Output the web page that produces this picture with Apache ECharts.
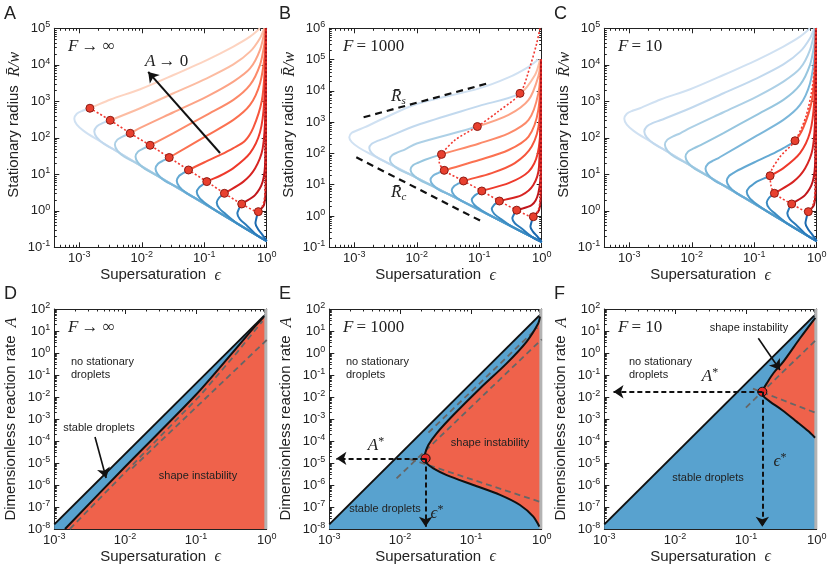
<!DOCTYPE html>
<html>
<head>
<meta charset="utf-8">
<title>Stationary droplets</title>
<script src="https://cdn.jsdelivr.net/npm/echarts@6.0.0/dist/echarts.min.js"></script>
<style>
  html, body { margin: 0; padding: 0; background: #fff; }
  #chart { width: 830px; height: 575px; }
</style>
</head>
<body>
<div id="chart"></div>
<script>
// every number below is a log10 exponent

// tick labels
var epsTicks = [-3, -2, -1, 0];
var radiusTicks = [-1, 0, 1, 2, 3, 4, 5];
var radiusTicksB = [-1, 0, 1, 2, 3, 4, 5, 6];
var rateTicks = [-8, -7, -6, -5, -4, -3, -2, -1, 0, 1, 2];

// stationary radius curves, smallest A first
// lower branch and nose (same in A, B, C)
var lower1 = [[0, -0.83], [-2.75, 1.99], [-2.93, 2.19], [-3.04, 2.36], [-3.08, 2.52], [-3.04, 2.66], [-2.95, 2.74]];
var lower2 = [[0, -0.83], [-2.43, 1.66], [-2.61, 1.84], [-2.72, 2.01], [-2.76, 2.17], [-2.72, 2.31], [-2.63, 2.40]];
var lower3 = [[0, -0.83], [-2.10, 1.32], [-2.28, 1.48], [-2.39, 1.65], [-2.43, 1.81], [-2.39, 1.95], [-2.30, 2.04]];
var lower4 = [[0, -0.83], [-1.77, 0.98], [-1.95, 1.15], [-2.06, 1.32], [-2.10, 1.48], [-2.06, 1.62], [-1.97, 1.71]];
var lower5 = [[0, -0.83], [-1.45, 0.66], [-1.63, 0.82], [-1.74, 0.99], [-1.78, 1.15], [-1.74, 1.29], [-1.65, 1.38]];
var lower6 = [[0, -0.83], [-1.11, 0.31], [-1.29, 0.49], [-1.40, 0.66], [-1.44, 0.82], [-1.40, 0.96], [-1.33, 1.04]];
var lower7 = [[0, -0.83], [-0.79, -0.02], [-0.97, 0.19], [-1.08, 0.36], [-1.12, 0.52], [-1.08, 0.64], [-1.02, 0.72]];
var lower8 = [[0, -0.83], [-0.47, -0.35], [-0.65, -0.10], [-0.76, 0.07], [-0.80, 0.23], [-0.765, 0.35], [-0.72, 0.42]];
var lower9 = [[0, -0.83], [-0.14, -0.69], [-0.32, -0.40], [-0.43, -0.23], [-0.47, -0.07], [-0.445, 0.05], [-0.42, 0.13]];
var lower10 = [[0, -0.83], [-0.03, -0.75], [-0.08, -0.63], [-0.14, -0.50], [-0.18, -0.34], [-0.163, -0.19], [-0.148, -0.09]];

// upper branches for F -> infinity (A) and F = 10 (C)
var upper1 = [[-2.83, 2.81], [-2.5, 3.05], [-2.025, 3.33], [-1.492, 3.72], [-0.959, 4.13], [-0.533, 4.50], [-0.267, 4.77], [-0.107, 5.0]];
var upper2 = [[-2.505, 2.48], [-2.025, 2.81], [-1.492, 3.22], [-0.959, 3.63], [-0.533, 4.01], [-0.267, 4.36], [-0.107, 4.73], [-0.04, 5.0]];
var upper3 = [[-2.185, 2.124], [-2.025, 2.27], [-1.492, 2.70], [-0.959, 3.13], [-0.533, 3.54], [-0.267, 3.90], [-0.107, 4.41], [-0.027, 5.0]];
var upper4 = [[-1.866, 1.795], [-1.492, 2.13], [-0.959, 2.63], [-0.533, 3.04], [-0.267, 3.45], [-0.107, 4.0], [-0.035, 4.6], [-0.016, 5.0]];
var upper5 = [[-1.56, 1.46], [-0.959, 2.06], [-0.533, 2.49], [-0.267, 2.90], [-0.107, 3.49], [-0.03, 4.3], [-0.012, 5.0]];
var upper6 = [[-1.252, 1.118], [-0.959, 1.36], [-0.746, 1.53], [-0.533, 1.72], [-0.347, 1.92], [-0.214, 2.28], [-0.08, 3.0], [-0.03, 3.9], [-0.012, 5.0]];
var upper7 = [[-0.959, 0.80], [-0.746, 0.96], [-0.533, 1.17], [-0.267, 1.58], [-0.107, 2.15], [-0.04, 3.0], [-0.012, 5.0]];
var upper8 = [[-0.677, 0.479], [-0.373, 0.80], [-0.187, 1.16], [-0.064, 1.71], [-0.02, 2.8], [-0.012, 5.0]];
var upper9 = [[-0.40, 0.187], [-0.187, 0.43], [-0.064, 0.80], [-0.022, 1.44], [-0.012, 5.0]];
var upper10 = [[-0.134, -0.023], [-0.043, 0.16], [-0.016, 0.71], [-0.012, 5.0]];

// upper branches for F = 1000 (B), capped at 10^5
var upperB1 = [[-2.83, 2.84], [-2.5, 3.15], [-2.0, 3.58], [-1.0, 4.08], [-0.53, 4.43], [-0.21, 4.77], [-0.054, 5.0]];
var upperB2 = [[-2.505, 2.49], [-2.0, 2.90], [-1.0, 3.52], [-0.347, 3.92], [-0.107, 4.51], [-0.027, 5.0]];
var upperB3 = [[-2.185, 2.13], [-2.0, 2.32], [-1.03, 2.86], [-0.53, 3.23], [-0.21, 3.71], [-0.054, 4.46], [-0.016, 5.0]];
var upperB4 = [[-1.866, 1.80], [-1.604, 1.97], [-1.0, 2.32], [-0.53, 2.64], [-0.21, 3.07], [-0.054, 3.92], [-0.011, 5.0]];
var upperB5 = [[-1.56, 1.46], [-1.0, 1.79], [-0.53, 2.11], [-0.21, 2.54], [-0.054, 3.39], [-0.011, 5.0]];
var upperB6 = [[-1.252, 1.12], [-0.80, 1.37], [-0.43, 1.69], [-0.16, 2.22], [-0.037, 3.07], [-0.011, 5.0]];
var upperB7 = [[-0.959, 0.80], [-0.53, 1.05], [-0.21, 1.42], [-0.064, 2.0], [-0.016, 3.07], [-0.011, 5.0]];
var upperB8 = [[-0.677, 0.479], [-0.32, 0.67], [-0.134, 0.99], [-0.043, 1.58], [-0.011, 5.0]];
var upperB9 = [[-0.40, 0.187], [-0.16, 0.35], [-0.054, 0.73], [-0.013, 1.58], [-0.011, 5.0]];
var upperB10 = [[-0.134, -0.023], [-0.043, 0.19], [-0.013, 0.73], [-0.011, 5.0]];

var lowers = [lower1, lower2, lower3, lower4, lower5, lower6, lower7, lower8, lower9, lower10];
var uppers = [upper1, upper2, upper3, upper4, upper5, upper6, upper7, upper8, upper9, upper10];
var uppersB = [upperB1, upperB2, upperB3, upperB4, upperB5, upperB6, upperB7, upperB8, upperB9, upperB10];

// where each curve turns from stable (blue) to unstable (red); null = stays blue
var turnA = [[-2.83, 2.81], [-2.505, 2.48], [-2.185, 2.124], [-1.866, 1.795], [-1.56, 1.46], [-1.252, 1.118], [-0.959, 0.80], [-0.677, 0.479], [-0.40, 0.187], [-0.134, -0.023]];
var turnB = [null, [-0.347, 3.92], [-1.03, 2.86], [-1.604, 1.97], [-1.56, 1.46], [-1.252, 1.12], [-0.959, 0.80], [-0.677, 0.479], [-0.40, 0.187], [-0.134, -0.023]];
var turnC = [null, null, null, null, null, [-0.347, 1.92], [-0.746, 0.96], [-0.677, 0.479], [-0.40, 0.187], [-0.134, -0.023]];

// red dotted stability boundary
var limitA = [[-2.83, 2.81], [-2.505, 2.48], [-2.185, 2.124], [-1.866, 1.795], [-1.56, 1.46], [-1.252, 1.118], [-0.959, 0.80], [-0.677, 0.479], [-0.40, 0.187], [-0.134, -0.023], [-0.05, 0.22], [-0.022, 0.65], [-0.012, 1.5], [-0.01, 5.0]];
var limitB = [[-0.027, 6.0], [-0.08, 5.52], [-0.187, 4.775], [-0.347, 3.92], [-0.69, 3.35], [-1.03, 2.86], [-1.386, 2.43], [-1.604, 1.97], [-1.641, 1.74], [-1.56, 1.46], [-1.252, 1.12], [-0.959, 0.80], [-0.677, 0.479], [-0.40, 0.187], [-0.134, -0.023], [-0.05, 0.22], [-0.022, 0.65], [-0.012, 1.5], [-0.01, 5.0]];
var limitC = [[-0.012, 5.0], [-0.02, 4.5], [-0.06, 3.5], [-0.17, 2.6], [-0.347, 1.92], [-0.59, 1.47], [-0.746, 0.96], [-0.73, 0.68], [-0.677, 0.479], [-0.40, 0.187], [-0.134, -0.023], [-0.05, 0.22], [-0.022, 0.65], [-0.012, 1.5], [-0.01, 5.0]];

// asymptotes in B and the arrow in A
var radiusS = [[-2.851, 3.155], [-0.864, 4.24]];
var radiusC = [[-2.968, 1.877], [-0.986, -0.147]];
var arrowA = [[-0.747, 1.584], [-1.897, 3.804]];

// phase diagrams: reaction rate vs supersaturation
var existLimit = [[-3, -7.79], [-0.035, 1.7]];
var stableD = [[-2.849, -8.0], [-2.0, -5.17], [-1.0, -1.9], [-0.47, 0.06], [-0.19, 1.12], [-0.04, 1.64]];
var dashD1 = [[-2.78, -8.0], [-1.93, -5.2], [-0.94, -1.93], [-0.42, 0.02], [-0.06, 1.45]];
var dashD2 = [[-1.9, -5.24], [0, 0.59]];
var arrowD = [[-2.425, -3.82], [-2.268, -5.68]];

var stableE = [[-0.024, 1.65], [-0.048, 1.35], [-0.212, 0.52], [-0.495, -0.47], [-0.872, -1.61], [-1.248, -2.82], [-1.484, -3.65], [-1.601, -4.18], [-1.645, -4.55], [-1.655, -4.79], [-1.625, -5.02], [-1.531, -5.24], [-1.342, -5.55], [-0.966, -6.0], [-0.589, -6.45], [-0.307, -6.91], [-0.118, -7.44], [-0.034, -7.89]];
var dashE1 = [[-2.05, -5.70], [0, 0.62]];
var dashE2 = [[-1.86, -4.82], [0, -6.79]];
var dashE3 = [[-1.6, -3.62], [-0.06, 1.15]];
var starE = [-1.64, -4.79];
var starEnds = [[-2.9, -4.79], [-1.64, -7.9]];

var stableF = [[-0.02, 1.6], [-0.236, 0.67], [-0.471, -0.39], [-0.612, -0.92], [-0.706, -1.38], [-0.755, -1.65], [-0.775, -1.80], [-0.75, -1.97], [-0.66, -2.21], [-0.49, -2.59], [-0.283, -3.12], [-0.12, -3.55], [-0.023, -3.85]];
var dashF1 = [[-1.0, -2.48], [0, 0.62]];
var dashF2 = [[-0.9, -1.62], [0, -2.74]];
var starF = [-0.768, -1.76];
var starFEnds = [[-2.87, -1.76], [-0.768, -7.9]];
var arrowF = [[-0.825, 0.668], [-0.518, -0.77]];

var blues = ['#d0e1f2', '#c2d9ee', '#add0e6', '#97c6df', '#7cb7da', '#64a9d3', '#4f9bcb', '#3b8bc2', '#2a7aba', '#1b69af'];
var reds = ['#fdd3c0', '#fcbca2', '#fca386', '#fc8a6a', '#fb7151', '#f6563d', '#ee3a2c', '#d72422', '#c1161b', '#aa1016'];

var INK = '#222';
var SANS = '"Liberation Sans", Arial, sans-serif';
var SERIF = '"Liberation Serif", "DejaVu Serif", serif';
var FILL_BLUE = '#58a2cf';
var FILL_RED = '#ef624b';

var grids = [], xAxes = [], yAxes = [], series = [], graphics = [];
var splitCurves = []; // curves coloured blue below / red above their turning point

function decadeLabel(v) {
  return '{b|10}{s|' + Math.round(v) + '}';
}
var tickRich = {
  b: { fontFamily: SANS, fontSize: 13, color: INK },
  s: { fontFamily: SANS, fontSize: 9, color: INK, padding: [0, 0, 7, 0] }
};

function minorTicks(range) {
  var out = [];
  for (var n = Math.floor(range[0]); n < range[1]; n++) {
    for (var k = 2; k <= 9; k++) {
      var v = n + Math.log10(k);
      if (v > range[0] && v < range[1]) out.push(v);
    }
  }
  return out;
}

function makeAxis(gridIndex, position, range, ticks, len, withLine, margin) {
  return {
    type: 'value', gridIndex: gridIndex, position: position,
    min: range[0], max: range[1],
    axisLine: { show: withLine, onZero: false, lineStyle: { color: INK, width: 1 } },
    axisTick: { show: true, inside: true, length: len, customValues: ticks, lineStyle: { color: INK, width: 1 } },
    axisLabel: margin ? { show: true, customValues: ticks, formatter: decadeLabel, rich: tickRich, margin: margin } : { show: false },
    splitLine: { show: false }
  };
}

function addPanel(left, top, height, xr, yr, yTicks) {
  var g = grids.length;
  var box = { left: left, top: top, width: 212.4, height: height };
  grids.push(box, Object.assign({}, box));
  var xi = xAxes.length, yi = yAxes.length;
  xAxes.push(makeAxis(g, 'bottom', xr, epsTicks, 5, true, 3));
  xAxes.push(makeAxis(g, 'top', xr, epsTicks, 5, true, 0));
  xAxes.push(makeAxis(g + 1, 'bottom', xr, minorTicks(xr), 2.5, false, 0));
  xAxes.push(makeAxis(g + 1, 'top', xr, minorTicks(xr), 2.5, false, 0));
  yAxes.push(makeAxis(g, 'left', yr, yTicks, 5, true, 4));
  yAxes.push(makeAxis(g, 'right', yr, yTicks, 5, true, 0));
  yAxes.push(makeAxis(g + 1, 'left', yr, minorTicks(yr), 2.5, false, 0));
  yAxes.push(makeAxis(g + 1, 'right', yr, minorTicks(yr), 2.5, false, 0));
  var ax = xAxes[xi];
  ax.name = '{t|Supersaturation  }{m|ϵ}';
  ax.nameLocation = 'middle';
  ax.nameGap = 20;
  ax.nameTextStyle = { rich: { t: { fontFamily: SANS, fontSize: 15, color: INK }, m: { fontFamily: SERIF, fontStyle: 'italic', fontSize: 16, color: INK } } };
  return { x: xi, y: yi };
}

function line(p, data, color, width, dash, smooth) {
  series.push({
    type: 'line', xAxisIndex: p.x, yAxisIndex: p.y, data: data, silent: true,
    symbol: 'none', showSymbol: false, smooth: smooth || false, clip: true, z: 3,
    lineStyle: { color: color, width: width, type: dash || 'solid' }
  });
  return series.length - 1;
}

function dots(p, data, size, color, border) {
  series.push({
    type: 'scatter', xAxisIndex: p.x, yAxisIndex: p.y, data: data, silent: true,
    symbol: 'circle', symbolSize: size, z: 6,
    itemStyle: { color: color, borderColor: border, borderWidth: 1, opacity: 1 }
  });
}

function area(p, pts, color) {
  series.push({
    type: 'custom', xAxisIndex: p.x, yAxisIndex: p.y, data: pts, silent: true, z: 1,
    encode: { x: 0, y: 1 },
    renderItem: function (params, api) {
      if (params.dataIndex !== 0) return null;
      return {
        type: 'polygon',
        shape: { points: pts.map(function (d) { return api.coord(d); }) },
        style: { fill: color }
      };
    }
  });
}

function arrow(p, from, to, width, dash) {
  series.push({
    type: 'lines', coordinateSystem: 'cartesian2d', xAxisIndex: p.x, yAxisIndex: p.y, silent: true, z: 7,
    symbol: ['none', 'arrow'], symbolSize: 10,
    data: [{ coords: [from, to] }],
    lineStyle: { color: '#111', width: width, type: dash || 'solid', opacity: 1 }
  });
}

function text(x, y, str, opt) {
  opt = opt || {};
  graphics.push({
    type: 'text', x: x, y: y, silent: true, z: 20,
    style: {
      text: str,
      font: (opt.size || 11) + 'px ' + (opt.family || SANS),
      fill: INK,
      align: opt.align || 'left', textAlign: opt.align || 'left',
      verticalAlign: opt.va || 'middle', textVerticalAlign: opt.va || 'middle',
      lineHeight: opt.lineHeight,
      rich: opt.rich
    }
  });
}

var mathRich = {
  m: { fontFamily: SERIF, fontStyle: 'italic', fontSize: 17, color: INK },
  u: { fontFamily: SERIF, fontSize: 17, color: INK },
  sub: { fontFamily: SERIF, fontStyle: 'italic', fontSize: 11, color: INK, padding: [9, 0, 0, 0] },
  sup: { fontFamily: SERIF, fontSize: 12, color: INK, padding: [0, 0, 8, 0] }
};

// ---- top row: stationary radius ----
function radiusPanel(left, yr, yTicks, ups, turns, limit) {
  var p = addPanel(left, 28.3, 219, [-3.4, 0], yr, yTicks);
  var ay = yAxes[p.y];
  ay.name = '{t|Stationary radius  }{m|R̄/w}';
  ay.nameLocation = 'middle';
  ay.nameGap = 32;
  ay.nameTextStyle = { padding: [0, 0, 0, 26], rich: { t: { fontFamily: SANS, fontSize: 15, color: INK }, m: { fontFamily: SERIF, fontStyle: 'italic', fontSize: 16, color: INK } } };
  lowers.forEach(function (low, i) {
    var s = line(p, low.concat(ups[i]), blues[i], 2, null, 0.3);
    if (turns[i]) splitCurves.push({ series: s, p: p, at: turns[i], blue: blues[i], red: reds[i] });
  });
  line(p, limit, '#f23a32', 1.6, [2, 2], 0.3);
  dots(p, turns.filter(function (t) { return t; }), 8, '#e8402f', '#8e1c14');
  return p;
}

var pA = radiusPanel(54.3, [-1, 5], radiusTicks, uppers, turnA, limitA);
var pB = radiusPanel(329.3, [-1, 6], radiusTicksB, uppersB, turnB, limitB);
var pC = radiusPanel(604.3, [-1, 5], radiusTicks, uppers, turnC, limitC);
arrow(pA, arrowA[0], arrowA[1], 2);
line(pB, radiusS, '#111', 2.2, [7, 5]);
line(pB, radiusC, '#111', 2.2, [7, 5]);

// ---- bottom row: phase diagrams ----
function ratePanel(left) {
  var p = addPanel(left, 309, 220, [-3, 0], [-8, 2], rateTicks);
  var ay = yAxes[p.y];
  ay.name = '{t|Dimensionless reaction rate  }{m|A}';
  ay.nameLocation = 'middle';
  ay.nameGap = 35;
  ay.nameTextStyle = { rich: { t: { fontFamily: SANS, fontSize: 15, color: INK }, m: { fontFamily: SERIF, fontStyle: 'italic', fontSize: 16, color: INK } } };
  area(p, [[-3, -8]].concat(existLimit, [[0, existLimit[1][1]], [0, -8]]), FILL_BLUE);
  return p;
}
function edge(p) {
  line(p, [[-0.012, -8], [-0.012, 2]], '#b3b3b3', 3);
}

var pD = ratePanel(54.3);
area(pD, stableD.concat([[0, stableD[stableD.length - 1][1]], [0, -8]]), FILL_RED);
edge(pD);
line(pD, dashD1, '#666', 1.8, [6, 4]);
line(pD, dashD2, '#666', 1.8, [6, 4]);
line(pD, existLimit, '#111', 2);
line(pD, stableD, '#111', 2, null, 0.3);
arrow(pD, arrowD[0], arrowD[1], 1.6);

var pE = ratePanel(329.3);
area(pE, stableE.concat([[0, stableE[stableE.length - 1][1]], [0, stableE[0][1]]]), FILL_RED);
edge(pE);
line(pE, dashE1, '#666', 1.8, [6, 4]);
line(pE, dashE2, '#666', 1.8, [6, 4]);
line(pE, dashE3, '#666', 1.8, [6, 4]);
line(pE, existLimit, '#111', 2);
line(pE, stableE, '#111', 2, null, 0.3);
arrow(pE, starE, starEnds[0], 2, [5, 3]);
arrow(pE, starE, starEnds[1], 2, [5, 3]);
dots(pE, [starE], 9, '#e82a28', '#111');

var pF = ratePanel(604.3);
area(pF, stableF.concat([[0, stableF[stableF.length - 1][1]], [0, stableF[0][1]]]), FILL_RED);
edge(pF);
line(pF, dashF1, '#666', 1.8, [6, 4]);
line(pF, dashF2, '#666', 1.8, [6, 4]);
line(pF, existLimit, '#111', 2);
line(pF, stableF, '#111', 2, null, 0.3);
arrow(pF, starF, starFEnds[0], 2, [5, 3]);
arrow(pF, starF, starFEnds[1], 2, [5, 3]);
dots(pF, [starF], 9, '#e82a28', '#111');
arrow(pF, arrowF[0], arrowF[1], 1.6);

// ---- annotations ----
['A', 'B', 'C'].forEach(function (s, i) { text(4 + 275 * i, 14, s, { size: 18 }); });
['D', 'E', 'F'].forEach(function (s, i) { text(4 + 275 * i, 294, s, { size: 18 }); });

text(68, 47, '{m|F} {u|→ ∞}', { rich: mathRich });
text(145, 62, '{m|A} {u|→ 0}', { rich: mathRich });
text(343, 47, '{m|F} {u|= 1000}', { rich: mathRich });
text(618, 47, '{m|F} {u|= 10}', { rich: mathRich });
text(391, 97, '{m|R̄}{sub|s}', { rich: mathRich });
text(391, 193, '{m|R̄}{sub|c}', { rich: mathRich });

text(68, 328, '{m|F} {u|→ ∞}', { rich: mathRich });
text(343, 328, '{m|F} {u|= 1000}', { rich: mathRich });
text(618, 328, '{m|F} {u|= 10}', { rich: mathRich });
[71, 346, 629].forEach(function (x) { text(x, 355, 'no stationary\ndroplets', { va: 'top', lineHeight: 13 }); });
text(99, 428, 'stable droplets', { align: 'center' });
text(198, 476, 'shape instability', { align: 'center' });
text(490, 443, 'shape instability', { align: 'center' });
text(385, 509, 'stable droplets', { align: 'center' });
text(749, 328, 'shape instability', { align: 'center' });
text(708, 478, 'stable droplets', { align: 'center' });
text(376, 446, '{m|A}{sup|*}', { rich: mathRich, align: 'center' });
text(437, 514, '{m|ϵ}{sup|*}', { rich: mathRich, align: 'center' });
text(710, 377, '{m|A}{sup|*}', { rich: mathRich, align: 'center' });
text(780, 462, '{m|ϵ}{sup|*}', { rich: mathRich, align: 'center' });

var chart = echarts.init(document.getElementById('chart'));
chart.setOption({
  animation: false,
  backgroundColor: '#fff',
  textStyle: { fontFamily: SANS },
  grid: grids,
  xAxis: xAxes,
  yAxis: yAxes,
  series: series,
  graphic: graphics
});

// each curve is one smooth line: red above its turning point, blue below it
var H = chart.getHeight();
var recolor = series.map(function () { return {}; });
splitCurves.forEach(function (sc) {
  var py = chart.convertToPixel({ xAxisIndex: sc.p.x, yAxisIndex: sc.p.y }, sc.at)[1];
  var t = Math.min(Math.max(py / H, 0), 1);
  recolor[sc.series] = {
    lineStyle: {
      color: new echarts.graphic.LinearGradient(0, 0, 0, H, [
        { offset: 0, color: sc.red },
        { offset: t, color: sc.red },
        { offset: t, color: sc.blue },
        { offset: 1, color: sc.blue }
      ], true)
    }
  };
});
chart.setOption({ series: recolor });
</script>
</body>
</html>
